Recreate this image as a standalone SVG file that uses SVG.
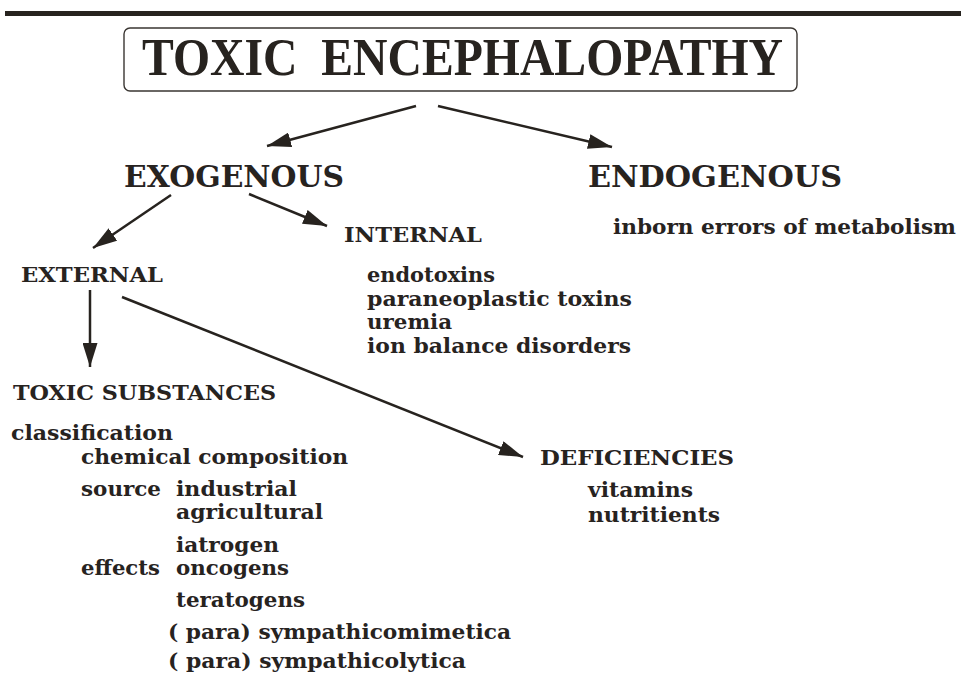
<svg xmlns="http://www.w3.org/2000/svg" width="961" height="675" viewBox="0 0 961 675">
<style>
.t{font-family:"DejaVu Serif","Liberation Serif",serif;font-weight:bold;fill:#27231f}
.h1{font-size:30px}
.h2{font-size:21px}
.it{font-size:21px}
.title{font-family:"Liberation Serif","Times New Roman",serif;font-weight:bold;font-size:53px;fill:#27231f;white-space:pre}
.c{stroke:#27231f;stroke-width:2.5;fill:none}
</style>
<defs>
<marker id="ah" viewBox="0 0 24 15" refX="24" refY="7.5" markerWidth="24" markerHeight="15" markerUnits="userSpaceOnUse" orient="auto">
<path d="M0,0 L24,7.5 L0,15 Z" fill="#27231f"/>
</marker>
</defs>
<rect x="0" y="0" width="961" height="675" fill="#ffffff"/>
<rect x="5" y="11" width="956" height="5" fill="#27231f"/>
<g id="title">
<rect x="124" y="28" width="673" height="63" rx="6" ry="6" fill="none" stroke="#3a3632" stroke-width="1.4"/>
<text class="title" x="142" y="75" textLength="641" lengthAdjust="spacingAndGlyphs">TOXIC  ENCEPHALOPATHY</text>
</g>
<g id="exogenous">
<text class="t h1" x="124" y="187" textLength="220" lengthAdjust="spacingAndGlyphs">EXOGENOUS</text>
</g>
<g id="endogenous">
<text class="t h1" x="588" y="187" textLength="254" lengthAdjust="spacingAndGlyphs">ENDOGENOUS</text>
<text class="t it" x="613" y="234" textLength="343" lengthAdjust="spacingAndGlyphs">inborn errors of metabolism</text>
</g>
<g id="internal">
<text class="t h2" x="344" y="242" textLength="138" lengthAdjust="spacingAndGlyphs">INTERNAL</text>
<text class="t it" x="367" y="282" textLength="128" lengthAdjust="spacingAndGlyphs">endotoxins</text>
<text class="t it" x="367" y="306" textLength="265" lengthAdjust="spacingAndGlyphs">paraneoplastic toxins</text>
<text class="t it" x="367" y="329" textLength="85" lengthAdjust="spacingAndGlyphs">uremia</text>
<text class="t it" x="367" y="353" textLength="264" lengthAdjust="spacingAndGlyphs">ion balance disorders</text>
</g>
<g id="external">
<text class="t h2" x="21" y="282" textLength="142" lengthAdjust="spacingAndGlyphs">EXTERNAL</text>
</g>
<g id="toxic-substances">
<text class="t h2" x="13" y="400" textLength="263" lengthAdjust="spacingAndGlyphs">TOXIC SUBSTANCES</text>
<text class="t it" x="11" y="440" textLength="162" lengthAdjust="spacingAndGlyphs">classification</text>
<text class="t it" x="81" y="464" textLength="267" lengthAdjust="spacingAndGlyphs">chemical composition</text>
<text class="t it" x="81" y="496" textLength="80" lengthAdjust="spacingAndGlyphs">source</text>
<text class="t it" x="176" y="496" textLength="121" lengthAdjust="spacingAndGlyphs">industrial</text>
<text class="t it" x="176" y="519" textLength="147" lengthAdjust="spacingAndGlyphs">agricultural</text>
<text class="t it" x="176" y="552" textLength="103" lengthAdjust="spacingAndGlyphs">iatrogen</text>
<text class="t it" x="81" y="575" textLength="79" lengthAdjust="spacingAndGlyphs">effects</text>
<text class="t it" x="176" y="575" textLength="113" lengthAdjust="spacingAndGlyphs">oncogens</text>
<text class="t it" x="176" y="607" textLength="129" lengthAdjust="spacingAndGlyphs">teratogens</text>
<text class="t it" x="168" y="639" textLength="343" lengthAdjust="spacingAndGlyphs">( para) sympathicomimetica</text>
<text class="t it" x="168" y="668" textLength="298" lengthAdjust="spacingAndGlyphs">( para) sympathicolytica</text>
</g>
<g id="deficiencies">
<text class="t h2" x="540" y="465" textLength="194" lengthAdjust="spacingAndGlyphs">DEFICIENCIES</text>
<text class="t it" x="588" y="497" textLength="105" lengthAdjust="spacingAndGlyphs">vitamins</text>
<text class="t it" x="588" y="522" textLength="132" lengthAdjust="spacingAndGlyphs">nutritients</text>
</g>
<g id="connectors">
<line class="c" x1="416" y1="106" x2="267" y2="146" marker-end="url(#ah)"/>
<line class="c" x1="438" y1="106" x2="612" y2="147" marker-end="url(#ah)"/>
<line class="c" x1="171" y1="195" x2="93" y2="248" marker-end="url(#ah)"/>
<line class="c" x1="249" y1="194" x2="327" y2="226" marker-end="url(#ah)"/>
<line class="c" x1="90" y1="290" x2="90" y2="367" marker-end="url(#ah)"/>
<line class="c" x1="122" y1="297" x2="523" y2="457" marker-end="url(#ah)"/>
</g>
</svg>
